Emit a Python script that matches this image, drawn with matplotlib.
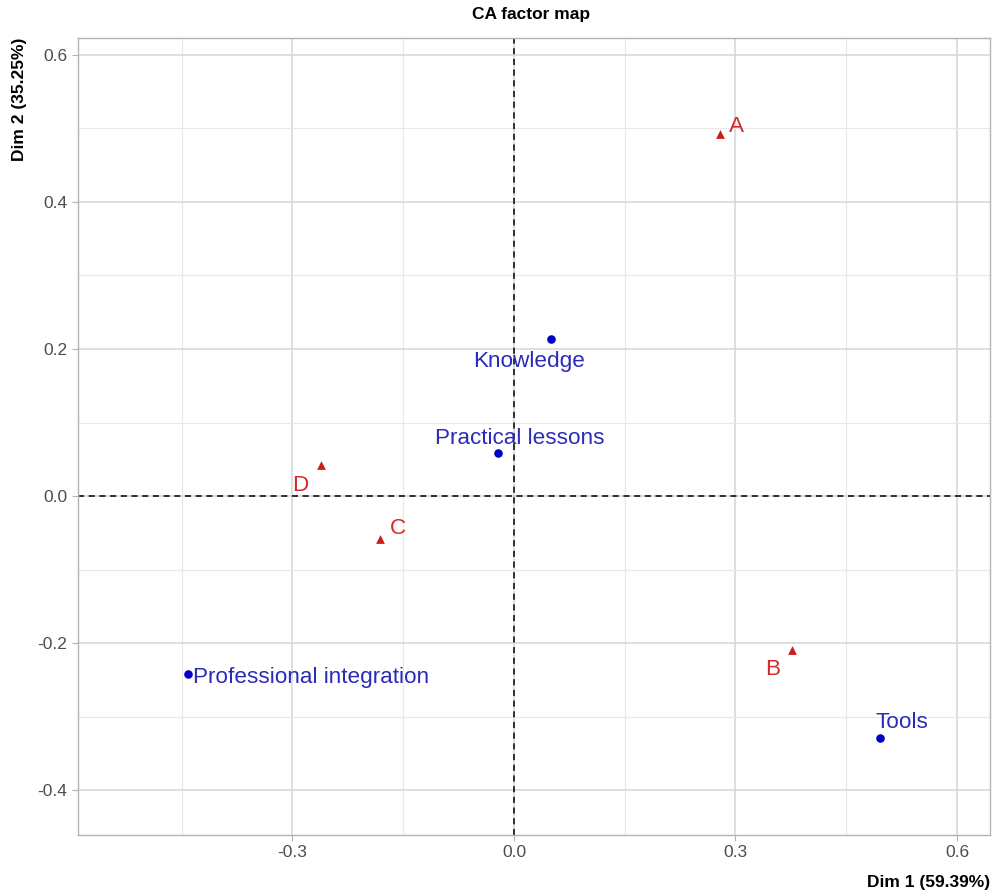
import matplotlib
matplotlib.use("Agg")
import matplotlib.pyplot as plt
from matplotlib.ticker import MultipleLocator

plt.rcParams['font.family'] = ['Liberation Sans', 'DejaVu Sans']

# Row points (red triangles)
row_labels = ["A", "B", "C", "D"]
row_x = [0.279, 0.3765, -0.1815, -0.261]
row_y = [0.4925, -0.2095, -0.0585, 0.042]
row_offsets = [(9, 7), (-27, -19), (10, 11), (-29, -20)]  # px
row_ha = ["left", "left", "left", "left"]

# Column points (blue dots)
col_labels = ["Knowledge", "Practical lessons", "Professional integration", "Tools"]
col_x = [0.050, -0.0217, -0.4415, 0.4957]
col_y = [0.2136, 0.0585, -0.242, -0.329]
col_offsets = [(-22, -22), (22, 15), (5, -4), (22, 15)]  # px
col_ha = ["center", "center", "left", "center"]

xlim = (-0.5905, 0.6447)
ylim = (-0.461, 0.623)

fig = plt.figure(figsize=(9.93, 8.96), dpi=100)
ax = fig.add_axes([78/993, 1-835/896, (990-78)/993, (835-38)/896])

red = "#D42A2A"
blue_pt = "#0000C8"
blue_txt = "#2B2BB8"

ax.scatter(row_x, row_y, marker="^", s=40, color="#C81E1E", zorder=3, linewidths=0)
ax.scatter(col_x, col_y, marker="o", s=38, color=blue_pt, zorder=3, linewidths=0)

for lab, x, y, (dx, dy), ha in zip(row_labels, row_x, row_y, row_offsets, row_ha):
    ax.annotate(lab, (x, y), xytext=(dx*0.72, dy*0.72), textcoords="offset points",
                ha=ha, va="center", color=red, fontsize=16.2, zorder=4)
for lab, x, y, (dx, dy), ha in zip(col_labels, col_x, col_y, col_offsets, col_ha):
    ax.annotate(lab, (x, y), xytext=(dx*0.72, dy*0.72), textcoords="offset points",
                ha=ha, va="center", color=blue_txt, fontsize=16.2, zorder=4)

ax.axhline(0, color="black", linestyle=(0, (4, 3)), linewidth=1.1, zorder=2)
ax.axvline(0, color="black", linestyle=(0, (4, 3)), linewidth=1.1, zorder=2)

ax.set_xlim(*xlim)
ax.set_ylim(*ylim)
ax.xaxis.set_major_locator(MultipleLocator(0.3))
ax.xaxis.set_minor_locator(MultipleLocator(0.15))
ax.yaxis.set_major_locator(MultipleLocator(0.2))
ax.yaxis.set_minor_locator(MultipleLocator(0.1))
ax.xaxis.set_major_formatter(matplotlib.ticker.FormatStrFormatter('%.1f'))
ax.yaxis.set_major_formatter(matplotlib.ticker.FormatStrFormatter('%.1f'))

ax.grid(which="major", color="#D6D6D6", linewidth=1.1, zorder=0)
ax.grid(which="minor", color="#E8E8E8", linewidth=0.8, zorder=0)
ax.set_axisbelow(True)
for s in ax.spines.values():
    s.set_color("#B3B3B3")
    s.set_linewidth(1.0)
ax.tick_params(which="major", length=4, color="#B3B3B3", labelcolor="#4D4D4D", labelsize=12.5)
ax.tick_params(which="minor", length=0)

fig.text((78+990)/2/993 - 0.003, 1-15/896, "CA factor map", ha="center", va="center",
         fontsize=12.5, fontweight="bold")
fig.text(20/993, 1-38/896, "Dim 2 (35.25%)", rotation=90, ha="center", va="top",
         fontsize=12.5, fontweight="bold")
fig.text(990/993, 1-882/896, "Dim 1 (59.39%)", ha="right", va="center",
         fontsize=12.5, fontweight="bold")

fig.savefig("out.png", dpi=100, facecolor="white")
